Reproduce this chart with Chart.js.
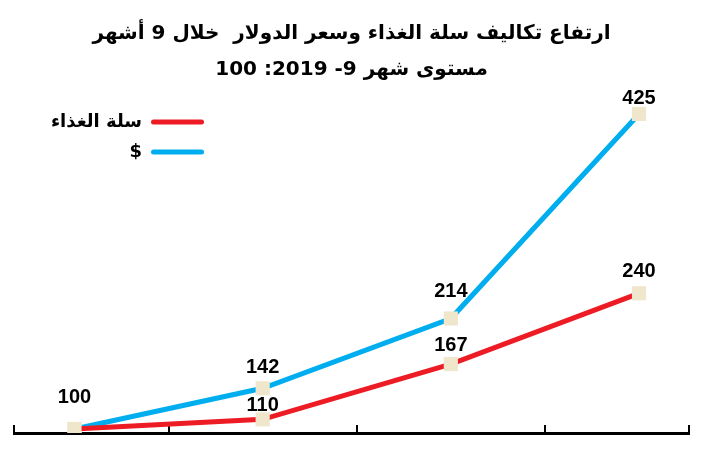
<!DOCTYPE html>
<html>
<head>
<meta charset="utf-8">
<script src="https://cdn.jsdelivr.net/npm/chart.js@4.4.1/dist/chart.umd.min.js"></script>
<style>
  html, body { margin: 0; padding: 0; background: #fff; }
  #wrap { width: 721px; height: 469px; }
  canvas { direction: rtl; }
</style>
</head>
<body>
<div id="wrap"><canvas id="line-chart"></canvas></div>
<script>
// readings, index 100 = month 9 of 2019
var steps = [1, 2, 3, 4];
var foodBasket = [100, 110, 167, 240];
var dollar = [100, 142, 214, 425];
var seriesNames = ['سلة الغذاء', '$'];
var titleLines = ['ارتفاع تكاليف سلة الغذاء وسعر الدولار  خلال 9 أشهر', 'مستوى شهر 9- 2019: 100'];

var RED = '#ED1C24';
var BLUE = '#00AEEF';
var MARKER = '#EFE6CC';

// how far each value label sits above its marker
var labelLift = [[32, 14, 19, 22], [32, 21, 27, 15]];

var valueLabels = {
	id: 'valueLabels',
	afterDatasetsDraw: function(chart) {
		var ctx = chart.ctx;
		var done = {};
		ctx.save();
		ctx.direction = 'ltr';
		ctx.font = 'bold 20px "Liberation Sans", Arial, sans-serif';
		ctx.fillStyle = '#000';
		ctx.textAlign = 'center';
		ctx.textBaseline = 'middle';
		chart.data.datasets.forEach(function(ds, di) {
			chart.getDatasetMeta(di).data.forEach(function(pt, i) {
				var key = i + ':' + ds.data[i].y;
				if (done[key]) return;
				done[key] = true;
				ctx.fillText(String(ds.data[i].y), pt.x, pt.y - labelLift[di][i]);
			});
		});
		ctx.restore();
	}
};

// put the legend in the empty upper-left corner of the plot
var legendSpot = {
	id: 'legendSpot',
	afterLayout: function(chart) {
		var lg = chart.legend;
		if (!lg) return;
		lg.left = 216 - lg.width;
		lg.right = lg.left + lg.width;
		lg.top = chart.chartArea.top;
		lg.bottom = lg.top + 80;
		lg.height = 80;
	}
};

function toPoints(values) {
	return values.map(function(v, i) { return {x: steps[i], y: v}; });
}

var ctx = document.getElementById('line-chart');

var myLineChart = new Chart(ctx, {
	type: 'line',
	data: {
		datasets: [
			{
				label: seriesNames[0],
				data: toPoints(foodBasket),
				borderColor: RED,
				backgroundColor: RED,
				borderWidth: 5,
				fill: false,
				tension: 0,
				pointStyle: 'rect',
				pointRadius: 10,
				pointBorderWidth: 0,
				pointBackgroundColor: MARKER
			},
			{
				label: seriesNames[1],
				data: toPoints(dollar),
				borderColor: BLUE,
				backgroundColor: BLUE,
				borderWidth: 5,
				fill: false,
				tension: 0,
				pointStyle: 'rect',
				pointRadius: 10,
				pointBorderWidth: 0,
				pointBackgroundColor: MARKER
			}
		]
	},
	options: {
		responsive: true,
		maintainAspectRatio: false,
		animation: false,
		events: [],
		layout: { padding: { left: 14, right: 32, top: 0, bottom: 0 } },
		scales: {
			x: {
				type: 'linear',
				min: 0.6785,
				max: 4.2657,
				afterBuildTicks: function(scale) {
					scale.ticks = [scale.min, 1.5, 2.5, 3.5, scale.max].map(function(v) { return {value: v}; });
				},
				afterFit: function(scale) { scale.height = 36; },
				ticks: { display: false },
				grid: {
					drawOnChartArea: false,
					drawTicks: true,
					tickLength: -8,
					color: '#000',
					lineWidth: 2
				},
				border: { color: '#000', width: 3 }
			},
			y: {
				display: false,
				min: 95.886,
				max: 438.37
			}
		},
		plugins: {
			title: {
				display: true,
				text: titleLines,
				color: '#000',
				font: { family: '"DejaVu Sans", sans-serif', size: 20, weight: 'bold', lineHeight: 1.8 },
				padding: { top: 16, bottom: 13 }
			},
			legend: {
				position: 'chartArea',
				align: 'start',
				rtl: true,
				labels: {
					boxWidth: 53,
					boxHeight: 5,
					useBorderRadius: true,
					borderRadius: 2.5,
					padding: 12,
					color: '#000',
					font: { family: '"DejaVu Sans", sans-serif', size: 18, weight: 'bold' },
					generateLabels: function(chart) {
						return Chart.defaults.plugins.legend.labels.generateLabels(chart).map(function(l) {
							l.lineWidth = 0;
							return l;
						});
					}
				}
			},
			tooltip: { enabled: false }
		}
	},
	plugins: [valueLabels, legendSpot]
});
</script>
</body>
</html>
